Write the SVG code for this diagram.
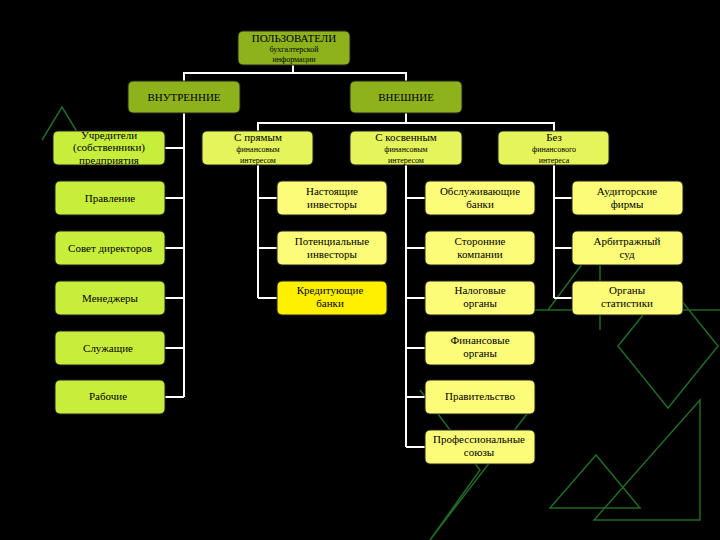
<svg xmlns="http://www.w3.org/2000/svg" width="720" height="540" viewBox="0 0 720 540">
<style>
text{font-family:"Liberation Serif","DejaVu Serif",serif;font-size:11px;fill:#000;text-anchor:middle}
.s{font-size:8px}
.b rect{stroke:#222;stroke-width:1}
.top{fill:#8db21c}
.lime{fill:#c8ee3c}
.sub{fill:#e4f45a}
.yel{fill:#fcfc78}
.brt{fill:#fff000}
.c{stroke:#fff;stroke-width:2;fill:none}
.d{stroke:#1f6a25;stroke-width:1.5;fill:none}
</style>
<rect width="720" height="540" fill="#000"/>
<g id="decor">
<path class="d" d="M42,140 L62,107 L82,140"/>
<path class="d" d="M548,310 L600,240 L600,330"/>
<path class="d" d="M618,346 L668,284 L718,346 L668,408 Z"/>
<path class="d" d="M594,520 L700,400 L700,520 Z"/>
<path class="d" d="M550,508 L596,455 L640,508 Z"/>
<path class="d" d="M430,540 L530,410 M420,390 L480,470 L430,540"/>
<path class="d" d="M440,310 L720,310"/>
</g>
<g id="connectors">
<path class="c" d="M293,65 V73 M184,81 V73 H406 V81"/>
<path class="c" d="M184,113 V397 M165,148 H184 M165,198 H184 M165,248 H184 M165,298 H184 M165,348 H184 M165,397 H184"/>
<path class="c" d="M406,113 V123 M258,131 V123 H554 V131"/>
<path class="c" d="M258,165 V298 M258,198 H277 M258,248 H277 M258,298 H277"/>
<path class="c" d="M406,165 V447 M406,198 H425 M406,248 H425 M406,298 H425 M406,348 H425 M406,397 H425 M406,447 H425"/>
<path class="c" d="M554,165 V298 M554,198 H572 M554,248 H572 M554,298 H572"/>
</g>
<g id="n-users" class="b"><rect class="top" x="238" y="31" width="112" height="34" rx="5"/><text x="294" y="42">ПОЛЬЗОВАТЕЛИ</text><text class="s" x="294" y="52">бухгалтерской</text><text class="s" x="294" y="62">информации</text></g>
<g id="n-int" class="b"><rect class="top" x="128" y="81" width="112" height="32" rx="5"/><text x="184" y="101">ВНУТРЕННИЕ</text></g>
<g id="n-ext" class="b"><rect class="top" x="350" y="81" width="112" height="32" rx="5"/><text x="406" y="101">ВНЕШНИЕ</text></g>
<g id="n-found" class="b"><rect class="lime" x="53" y="131" width="112" height="34" rx="5"/><text x="109" y="139">Учредители</text><text x="109" y="151">(собственники)</text><text x="109" y="164">предприятия</text></g>
<g id="n-board" class="b"><rect class="lime" x="55" y="181" width="110" height="34" rx="5"/><text x="110" y="202">Правление</text></g>
<g id="n-dir" class="b"><rect class="lime" x="55" y="231" width="110" height="34" rx="5"/><text x="110" y="252">Совет директоров</text></g>
<g id="n-man" class="b"><rect class="lime" x="55" y="281" width="110" height="34" rx="5"/><text x="110" y="302">Менеджеры</text></g>
<g id="n-emp" class="b"><rect class="lime" x="55" y="331" width="110" height="34" rx="5"/><text x="108" y="352">Служащие</text></g>
<g id="n-work" class="b"><rect class="lime" x="55" y="380" width="110" height="34" rx="5"/><text x="108" y="400">Рабочие</text></g>
<g id="n-direct" class="b"><rect class="sub" x="202" y="131" width="111" height="34" rx="5"/><text x="258" y="141">С прямым</text><text class="s" x="258" y="152">финансовым</text><text class="s" x="258" y="163">интересом</text></g>
<g id="n-indirect" class="b"><rect class="sub" x="350" y="131" width="112" height="34" rx="5"/><text x="406" y="141">С косвенным</text><text class="s" x="406" y="152">финансовым</text><text class="s" x="406" y="163">интересом</text></g>
<g id="n-none" class="b"><rect class="sub" x="498" y="131" width="111" height="34" rx="5"/><text x="554" y="141">Без</text><text class="s" x="554" y="152">финансового</text><text class="s" x="554" y="163">интереса</text></g>
<g id="n-inv1" class="b"><rect class="yel" x="277" y="181" width="110" height="34" rx="5"/><text x="332" y="195">Настоящие</text><text x="332" y="208">инвесторы</text></g>
<g id="n-inv2" class="b"><rect class="yel" x="277" y="231" width="110" height="34" rx="5"/><text x="332" y="245">Потенциальные</text><text x="332" y="258">инвесторы</text></g>
<g id="n-cred" class="b"><rect class="brt" x="277" y="281" width="110" height="34" rx="5"/><text x="330" y="294">Кредитующие</text><text x="330" y="307">банки</text></g>
<g id="n-serv" class="b"><rect class="yel" x="425" y="181" width="110" height="34" rx="5"/><text x="480" y="195">Обслуживающие</text><text x="480" y="208">банки</text></g>
<g id="n-third" class="b"><rect class="yel" x="425" y="231" width="110" height="34" rx="5"/><text x="480" y="245">Сторонние</text><text x="480" y="258">компании</text></g>
<g id="n-tax" class="b"><rect class="yel" x="425" y="281" width="110" height="34" rx="5"/><text x="480" y="294">Налоговые</text><text x="480" y="307">органы</text></g>
<g id="n-fin" class="b"><rect class="yel" x="425" y="331" width="110" height="34" rx="5"/><text x="480" y="344">Финансовые</text><text x="480" y="357">органы</text></g>
<g id="n-gov" class="b"><rect class="yel" x="425" y="380" width="110" height="34" rx="5"/><text x="480" y="400">Правительство</text></g>
<g id="n-union" class="b"><rect class="yel" x="425" y="430" width="110" height="34" rx="5"/><text x="479" y="443">Профессиональные</text><text x="479" y="456">союзы</text></g>
<g id="n-audit" class="b"><rect class="yel" x="572" y="181" width="111" height="34" rx="5"/><text x="627" y="195">Аудиторские</text><text x="627" y="208">фирмы</text></g>
<g id="n-arb" class="b"><rect class="yel" x="572" y="231" width="111" height="34" rx="5"/><text x="627" y="245">Арбитражный</text><text x="627" y="258">суд</text></g>
<g id="n-stat" class="b"><rect class="yel" x="572" y="281" width="111" height="34" rx="5"/><text x="627" y="294">Органы</text><text x="627" y="307">статистики</text></g>
</svg>
